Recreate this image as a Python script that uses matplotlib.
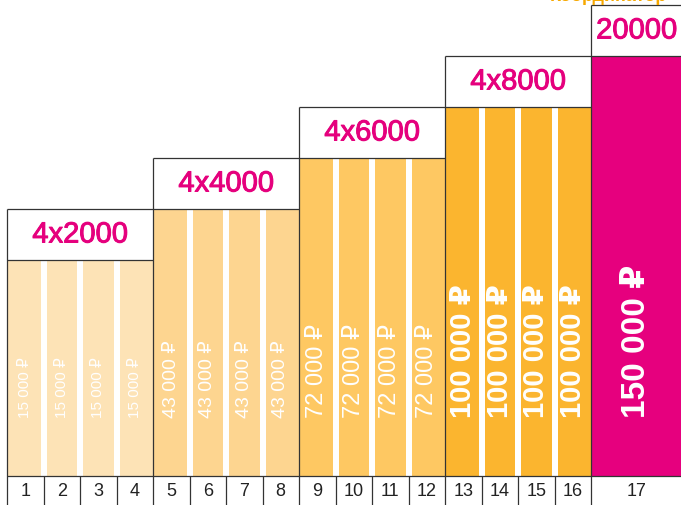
import matplotlib.pyplot as plt
import matplotlib.patheffects as pe
import numpy as np

plt.rcParams['font.family'] = ['Liberation Sans', 'DejaVu Sans']

# --- Datos ---
grupos = ['4x2000', '4x4000', '4x6000', '4x8000', '20000']
premios = [15000, 43000, 72000, 100000, 150000]   # premio por puesto en cada grupo
puestos_por_grupo = [4, 4, 4, 4, 1]
niveles = [1, 2, 3, 4, 5]                          # escalón de cada grupo
colores = ['#FDE3B6', '#FDD590', '#FEC862', '#FBB52F', '#E6007E']
titulo_extra = 'Координатор'

# --- Geometría (en píxeles) ---
W, H = 681, 506
izq = 7
paso = 36.5            # ancho de un puesto en los grupos de 4
ancho_ultimo = 91      # ancho del puesto 17
base = 29              # altura de la fila de números
alto_min = 165
escalon = 51
alto_caja = 51
hueco_pt = 6 * 72 / 100
linea = '#333333'
magenta = '#E5007D'

tam_texto = [11, 14, 17, 21, 24]
peso_texto = ['normal', 'normal', 'normal', 'bold', 'bold']

# trazo extra para que los importes de las cajas queden algo más gruesos
grueso = [pe.withStroke(linewidth=0.7, foreground=magenta)]

fig = plt.figure(figsize=(W / 100, H / 100), dpi=100)
ax = fig.add_axes([0, 0, 1, 1])
ax.set_xlim(0, W)
ax.set_ylim(0, H)
ax.axis('off')

x0 = izq
puesto = 1
bordes = []
for g, (nombre, premio, n, nivel, color) in enumerate(
        zip(grupos, premios, puestos_por_grupo, niveles, colores)):
    ancho = paso if n > 1 else ancho_ultimo
    alto = alto_min + nivel * escalon
    xs = x0 + (np.arange(n) + 0.5) * ancho
    ax.bar(xs, [alto] * n, width=ancho, bottom=base, color=color, linewidth=0)

    # huecos blancos entre barras del mismo grupo
    for k in range(1, n):
        ax.vlines(x0 + k * ancho, base, base + alto, color='white', lw=hueco_pt)

    # textos de premio dentro de cada barra
    etiqueta = f'{premio:,}'.replace(',', ' ') + ' ₽'
    for x in xs:
        ax.text(x, base + 59, etiqueta, rotation=90, ha='center', va='bottom',
                color='white', fontsize=tam_texto[g], fontweight=peso_texto[g])

    # caja con el importe del grupo
    x1 = x0 + n * ancho
    tope = base + alto
    ax.hlines([tope, tope + alto_caja], x0, min(x1, W), color=linea, lw=0.9)
    ax.vlines(x0, 0, tope + alto_caja, color=linea, lw=0.9)
    ax.text((x0 + x1) / 2, tope + alto_caja / 2, nombre, ha='center', va='center',
            color=magenta, fontsize=21, path_effects=grueso)

    # fila de números
    for k in range(n):
        ax.text(xs[k], base / 2, str(puesto), ha='center', va='center',
                color='#222222', fontsize=13)
        puesto += 1
        if k > 0:
            bordes.append(x0 + k * ancho)
    x0 = x1

ax.vlines(bordes, 0, base, color=linea, lw=0.9)
ax.hlines(base, izq, W, color=linea, lw=0.9)

# texto cortado en el borde superior
ax.text(608, H - 0.5, titulo_extra, ha='center', va='baseline',
        color='#F6A800', fontsize=13, fontweight='bold', clip_on=False)

fig.savefig('out.png', dpi=100)
